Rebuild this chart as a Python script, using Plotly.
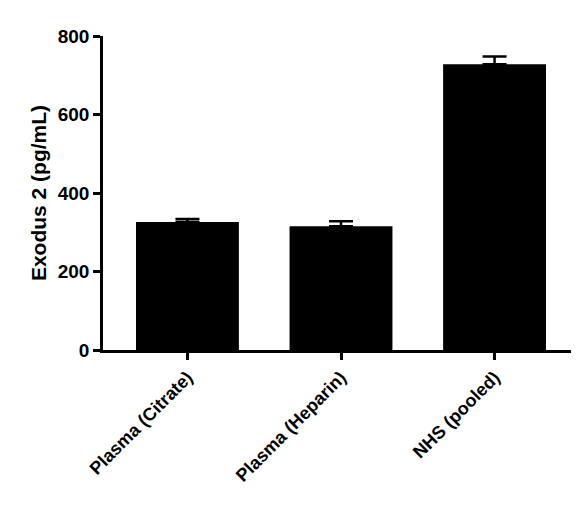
import plotly.graph_objects as go

categories = ["Plasma (Citrate)", "Plasma (Heparin)", "NHS (pooled)"]
values = [326, 315, 728]
errors = [8, 13, 20]
yticks = [0, 200, 400, 600, 800]

fam = "Liberation Sans, Arial"

fig = go.Figure(go.Bar(
    x=categories, y=values, width=0.67,
    marker=dict(color="black", line=dict(width=0)),
    error_y=dict(type="data", array=errors, arrayminus=[0, 0, 0],
                 symmetric=False, color="black", thickness=2.5, width=12),
))

fig.update_layout(
    width=579, height=508,
    margin=dict(l=95, r=8, t=28, b=166),
    plot_bgcolor="white", paper_bgcolor="white",
    showlegend=False,
    font=dict(family=fam, size=18, color="black"),
)
fig.update_xaxes(
    range=[-0.55, 2.55], showline=True, linecolor="black", linewidth=2.5,
    ticks="outside", tickwidth=2.5, ticklen=7, tickcolor="black",
    tickangle=-45, tickfont=dict(family=fam, size=18, color="black"),
    showgrid=False, automargin=False,
    tickvals=categories, ticktext=["<b>%s</b>" % c for c in categories],
)
fig.update_yaxes(
    range=[0, 800], tickvals=yticks, ticktext=["<b>%d</b>" % v for v in yticks],
    showline=True, linecolor="black", linewidth=2.5,
    ticks="outside", tickwidth=2.5, ticklen=7, tickcolor="black",
    showgrid=False, zeroline=False, automargin=False,
    title=dict(text="<b>Exodus 2 (pg/mL)</b>", font=dict(size=21), standoff=6),
    tickfont=dict(family=fam, size=19, color="black"),
)

fig.write_html("out.html")
